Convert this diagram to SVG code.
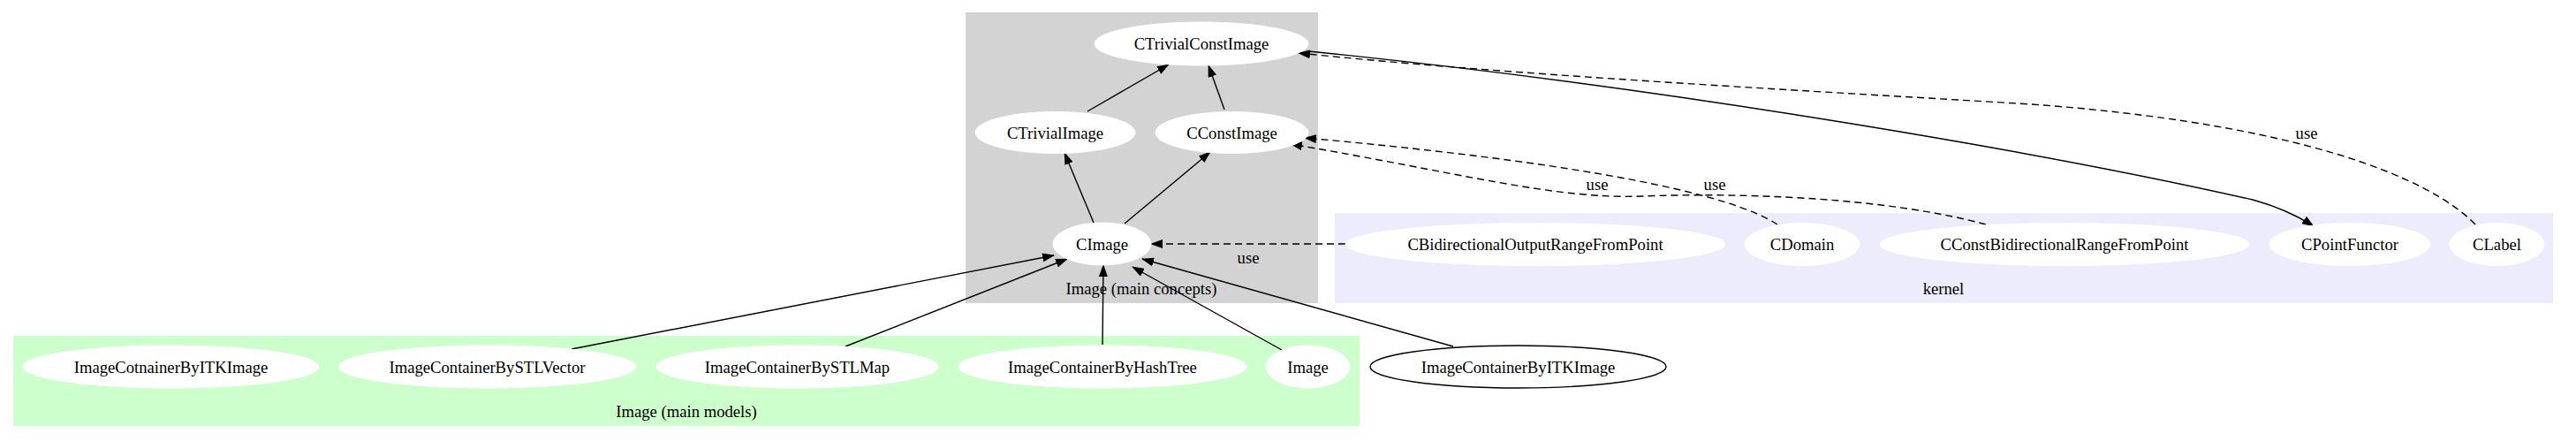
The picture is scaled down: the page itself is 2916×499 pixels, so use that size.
<svg xmlns="http://www.w3.org/2000/svg" width="2916" height="499" viewBox="0 0 2916 499">
<style>
text{font-family:"Liberation Serif","Times New Roman",serif;font-size:18.67px;fill:#000;text-anchor:middle}
.n{fill:#fff;stroke:#fff;stroke-width:1}
.nb{fill:#fff;stroke:#000;stroke-width:1.4}
.e{fill:none;stroke:#000;stroke-width:1.4;marker-end:url(#ah)}
.d{stroke-dasharray:8,5}
</style>
<defs>
<marker id="ah" markerUnits="userSpaceOnUse" markerWidth="14" markerHeight="10" viewBox="0 0 14 10" refX="13" refY="5" orient="auto">
<path d="M0,0 L14,5 L0,10 z" fill="#000"/>
</marker>
</defs>
<rect width="2916" height="499" fill="#fff"/>
<g id="cluster_concepts">
<rect x="1093" y="14" width="399" height="329" fill="#d3d3d3"/>
<text x="1292" y="333">Image (main concepts)</text>
</g>
<g id="cluster_kernel">
<rect x="1511" y="241" width="1379" height="102" fill="#ececfc"/>
<text x="2200" y="333">kernel</text>
</g>
<g id="cluster_models">
<rect x="15" y="380" width="1524" height="102" fill="#ccffcc"/>
<text x="777" y="472">Image (main models)</text>
</g>
<g id="edges">
<path class="e" d="M1231,126 L1323,73"/>
<path class="e" d="M1386,124 L1368,74"/>
<path class="e" d="M1238,252 L1205,173"/>
<path class="e" d="M1273,253 L1370,172"/>
<path class="e d" d="M1523,276 L1303,276"/>
<text x="1413" y="298">use</text>
<path class="e" d="M647,395 L1193,289"/>
<path class="e" d="M957,392 L1208,293"/>
<path class="e" d="M1248,390 L1249,300"/>
<path class="e" d="M1451,396 L1282,302"/>
<path class="e" d="M1645,392 L1293,293"/>
<path class="e" d="M1481,58 C1900,100 2330,176 2550,226 Q2590,237 2619,256"/>
<path class="e d" d="M2802,254 C2750,200 2600,140 2300,118 C2000,100 1700,84 1470,60"/>
<text x="2611" y="157">use</text>
<path class="e d" d="M2012,254 C1960,220 1800,185 1477,156"/>
<text x="1941" y="215">use</text>
<path class="e d" d="M2248,254 C2130,222 1960,218 1860,222 C1760,226 1650,195 1461,163"/>
<text x="1808" y="215">use</text>
</g>
<g id="CTrivialConstImage"><ellipse class="n" cx="1360" cy="49.5" rx="121" ry="24.5"/><text x="1360" y="56">CTrivialConstImage</text></g>
<g id="CTrivialImage"><ellipse class="n" cx="1194.5" cy="150" rx="90.5" ry="23.5"/><text x="1194.5" y="156.5">CTrivialImage</text></g>
<g id="CConstImage"><ellipse class="n" cx="1394.5" cy="150" rx="86.5" ry="23.5"/><text x="1394.5" y="156.5">CConstImage</text></g>
<g id="CImage"><ellipse class="n" cx="1247.5" cy="276" rx="55.5" ry="24"/><text x="1247.5" y="282.5">CImage</text></g>
<g id="CBidirectionalOutputRangeFromPoint"><ellipse class="n" cx="1738" cy="276.5" rx="215" ry="24"/><text x="1738" y="283">CBidirectionalOutputRangeFromPoint</text></g>
<g id="CDomain"><ellipse class="n" cx="2040" cy="276.5" rx="65" ry="24"/><text x="2040" y="283">CDomain</text></g>
<g id="CConstBidirectionalRangeFromPoint"><ellipse class="n" cx="2337" cy="276.5" rx="209" ry="24"/><text x="2337" y="283">CConstBidirectionalRangeFromPoint</text></g>
<g id="CPointFunctor"><ellipse class="n" cx="2660" cy="276.5" rx="91" ry="24"/><text x="2660" y="283">CPointFunctor</text></g>
<g id="CLabel"><ellipse class="n" cx="2826.5" cy="276.5" rx="53.5" ry="24"/><text x="2826.5" y="283">CLabel</text></g>
<g id="ImageCotnainerByITKImage"><ellipse class="n" cx="193.5" cy="415" rx="167.5" ry="24"/><text x="193.5" y="421.5">ImageCotnainerByITKImage</text></g>
<g id="ImageContainerBySTLVector"><ellipse class="n" cx="551.5" cy="415" rx="168.5" ry="24"/><text x="551.5" y="421.5">ImageContainerBySTLVector</text></g>
<g id="ImageContainerBySTLMap"><ellipse class="n" cx="902.5" cy="415" rx="159.5" ry="24"/><text x="902.5" y="421.5">ImageContainerBySTLMap</text></g>
<g id="ImageContainerByHashTree"><ellipse class="n" cx="1248" cy="415" rx="163" ry="24"/><text x="1248" y="421.5">ImageContainerByHashTree</text></g>
<g id="Image"><ellipse class="n" cx="1480.5" cy="415" rx="47.5" ry="24"/><text x="1480.5" y="421.5">Image</text></g>
<g id="ImageContainerByITKImage"><ellipse class="nb" cx="1718.5" cy="415" rx="167.5" ry="24"/><text x="1718.5" y="421.5">ImageContainerByITKImage</text></g>
</svg>
